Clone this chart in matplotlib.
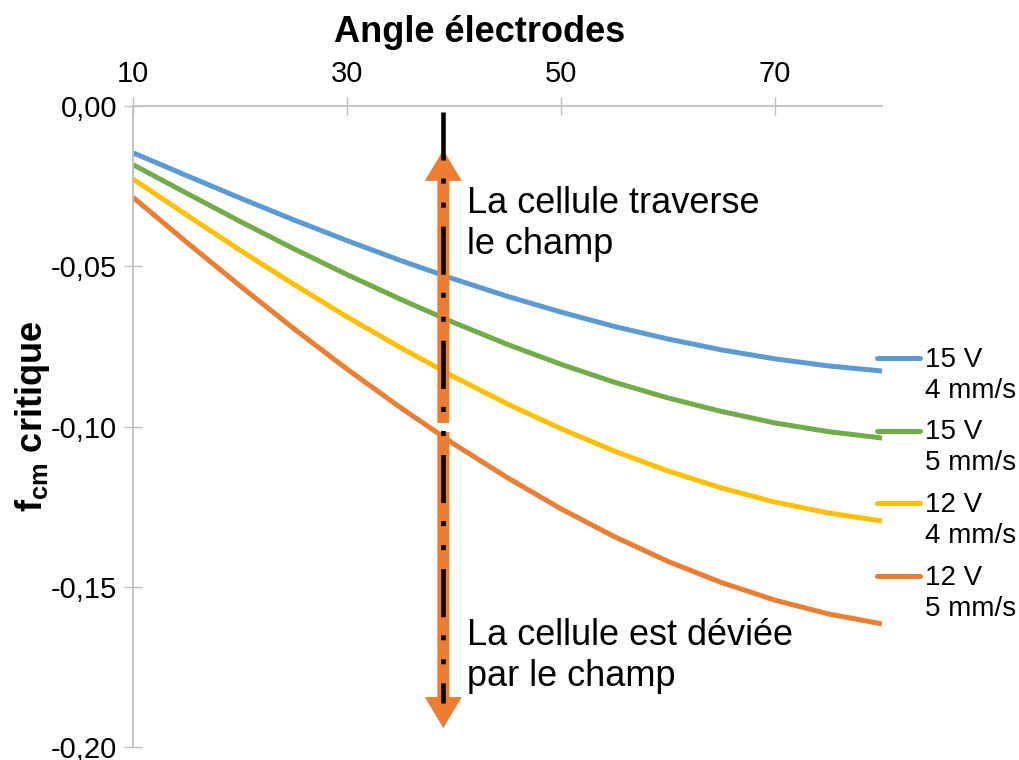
import matplotlib
matplotlib.use("Agg")
import matplotlib.pyplot as plt

plt.rcParams['font.family'] = ['Liberation Sans', 'DejaVu Sans']
plt.rcParams['mathtext.fontset'] = 'custom'
plt.rcParams['mathtext.rm'] = 'Liberation Sans'
plt.rcParams['mathtext.bf'] = 'Liberation Sans:bold'
plt.rcParams['lines.scale_dashes'] = False

# angle of the electrodes (degrees)
angles = [10, 15, 20, 25, 30, 35, 40, 45, 50, 55, 60, 65, 70, 75, 80]

# critical f_cm
f_15V_4 = [-0.0146, -0.0217, -0.0287, -0.0355, -0.0420, -0.0482, -0.0540, -0.0594,
           -0.0643, -0.0688, -0.0727, -0.0761, -0.0789, -0.0811, -0.0827]
f_15V_5 = [-0.0183, -0.0272, -0.0360, -0.0445, -0.0526, -0.0603, -0.0676, -0.0744,
           -0.0806, -0.0862, -0.0911, -0.0953, -0.0989, -0.1016, -0.1036]
f_12V_4 = [-0.0228, -0.0340, -0.0450, -0.0556, -0.0658, -0.0754, -0.0845, -0.0930,
           -0.1007, -0.1077, -0.1139, -0.1192, -0.1236, -0.1270, -0.1295]
f_12V_5 = [-0.0285, -0.0425, -0.0561, -0.0694, -0.0821, -0.0941, -0.1055, -0.1160,
           -0.1257, -0.1344, -0.1421, -0.1487, -0.1542, -0.1585, -0.1616]

series_labels = ['15 V\n4 mm/s', '15 V\n5 mm/s', '12 V\n4 mm/s', '12 V\n5 mm/s']
colors = ['#5B9BD5', '#70AD47', '#FFC000', '#ED7D31']

x_ticks = [10, 30, 50, 70]
y_ticks = [0.0, -0.05, -0.10, -0.15, -0.20]
y_ticklabels = ['0,00', '-0,05', '-0,10', '-0,15', '-0,20']

# the vertical marker and its two arrows
arrow_angle = 39.0
up_arrow = (-0.0989, -0.0137)
down_arrow = (-0.1017, -0.1941)
marker_line = (-0.0019, -0.1863)

fig = plt.figure(figsize=(10.19, 7.6), dpi=100)
ax = fig.add_axes([133 / 1019, 13 / 760, 749 / 1019, 641 / 760])

all_series = [f_15V_4, f_15V_5, f_12V_4, f_12V_5]
for vals, col in zip(all_series, colors):
    ax.plot(angles, vals, color=col, lw=3.6, solid_capstyle='butt', zorder=2)

ax.set_xlim(10, 80)
ax.set_ylim(-0.20, 0.0)
ax.set_xticks(x_ticks)
ax.set_yticks(y_ticks)
ax.set_yticklabels(y_ticklabels)
ax.xaxis.tick_top()

grey = '#BFBFBF'
for side in ['right', 'bottom']:
    ax.spines[side].set_visible(False)
for side in ['left', 'top']:
    ax.spines[side].set_color(grey)
    ax.spines[side].set_linewidth(1.3)
ax.tick_params(axis='both', direction='inout', length=12.5, width=1.0,
               color=grey, labelsize=21, pad=5)
ax.tick_params(axis='x', top=True, bottom=False, labeltop=True, labelbottom=False,
               pad=7)

# arrows
arrow_style = 'simple,head_length=2.23,head_width=2.66,tail_width=0.86'
for base, tip in [up_arrow, down_arrow]:
    ax.annotate('', xy=(arrow_angle, tip), xytext=(arrow_angle, base),
                arrowprops=dict(arrowstyle=arrow_style, color='#ED7D31',
                                shrinkA=0, shrinkB=0, mutation_scale=10, lw=0),
                zorder=3)
ax.plot([arrow_angle, arrow_angle], list(marker_line), color='black', lw=3.3,
        linestyle=(0, (34.6, 13.0, 3.6, 13.7, 3.6, 13.7)), dash_capstyle='butt',
        zorder=4)

ax.text(41.2, -0.025, 'La cellule traverse\nle champ', fontsize=26,
        va='top', ha='left', linespacing=1.22)
ax.text(41.2, -0.1598, 'La cellule est déviée\npar le champ', fontsize=26,
        va='top', ha='left', linespacing=1.22)

# legend drawn next to the line ends
for i, (lab, col) in enumerate(zip(series_labels, colors)):
    yy = 0.6069 - i * 0.1134
    ax.plot([0.9933, 1.0507], [yy, yy], transform=ax.transAxes, color=col,
            lw=3.6, solid_capstyle='round', clip_on=False)
    ax.text(1.0574, yy - 0.018, lab, transform=ax.transAxes, fontsize=20,
            va='center_baseline', ha='left', linespacing=1.25)

fig.text(480 / 1019, 1 - 42 / 760, 'Angle électrodes', fontsize=26,
         fontweight='bold', ha='center', va='baseline')
fig.text(33 / 1019, 1 - 416 / 760, r'$\mathbf{f_{cm}}$ critique', fontsize=26,
         fontweight='bold', rotation=90, ha='center', va='center')

fig.savefig('out.png', dpi=100)
